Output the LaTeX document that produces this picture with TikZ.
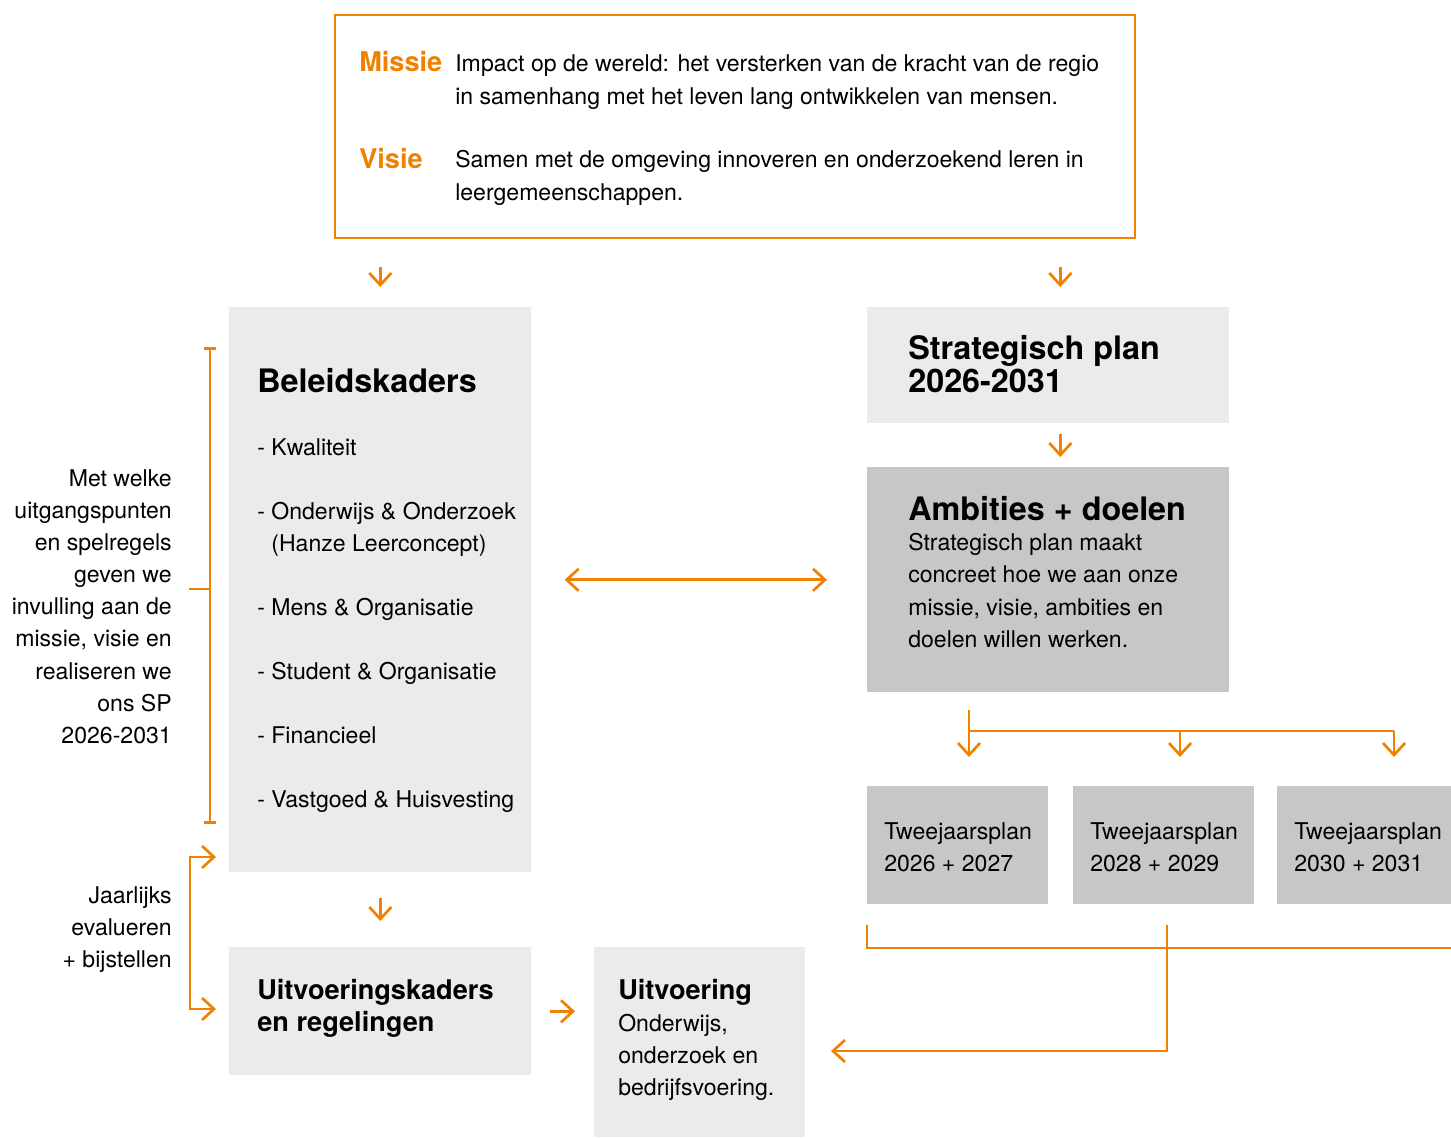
\documentclass[tikz,border=0pt]{standalone}
\usepackage{fontspec}
\setmainfont{TeX Gyre Heros}
\usetikzlibrary{positioning,arrows.meta}
\definecolor{hzorange}{HTML}{F08000}
\definecolor{hzlight}{HTML}{EBEBEB}
\definecolor{hzgrey}{HTML}{C6C7C6}

\begin{document}
\begin{tikzpicture}[
		x=0.025cm, y=-0.025cm,
		lightbox/.style = {fill=hzlight, inner sep=0, anchor=north west},
		greybox/.style = {fill=hzgrey, inner sep=0, anchor=north west},
		txt/.style = {inner sep=0, anchor=base west, align=left, font=\fontsize{16.4}{22.76}\selectfont},
		head/.style = {txt, font=\fontsize{23}{22.76}\selectfont\bfseries},
		subhead/.style = {txt, font=\fontsize{19.3}{22.76}\selectfont\bfseries},
		sidetxt/.style = {txt, anchor=base east, align=right},
		ln/.style = {draw=hzorange, line width=1.9pt},
		arr/.style = {ln, -{Straight Barb[length=3mm, width=5.5mm]}},
		dbl/.style = {ln, {Straight Barb[length=3mm, width=5.5mm]}-{Straight Barb[length=3mm, width=5.5mm]}}
	]
	\useasboundingbox (0,0) rectangle (1451,1137);

	\node[draw=hzorange, line width=1.6pt, inner sep=0, anchor=north west, minimum width=20cm, minimum height=5.575cm] (missie) at (334,14) {};
	\node[subhead, text=hzorange] (mlabel) at (359,71) {Missie};
	\node[txt] (mtext) at (455,104) {Impact op de wereld: het versterken van de kracht van de regio\\in samenhang met het leven lang ontwikkelen van mensen.};
	\node[subhead, text=hzorange] (vlabel) at (359,168) {Visie};
	\node[txt] (vtext) at (455,200) {Samen met de omgeving innoveren en onderzoekend leren in\\leergemeenschappen.};

	\node[lightbox, minimum width=7.55cm, minimum height=14.125cm] (beleid) at (229,307) {};
	\node[head] (bk) at (257,392) {Beleidskaders};
	\node[txt] (k1) at (257,455) {- Kwaliteit};
	\node[txt] (k2) at (257,551) {- Onderwijs \& Onderzoek\\\hphantom{- }(Hanze Leerconcept)};
	\node[txt] (k3) at (257,615) {- Mens \& Organisatie};
	\node[txt] (k4) at (257,679) {- Student \& Organisatie};
	\node[txt] (k5) at (257,743) {- Financieel};
	\node[txt] (k6) at (257,807) {- Vastgoed \& Huisvesting};

	\node[sidetxt] (uitleg) at (172,743) {Met welke\\uitgangspunten\\en spelregels\\geven we\\invulling aan de\\missie, visie en\\realiseren we\\ons SP\\2026-2031};

	\node[lightbox, minimum width=9.05cm, minimum height=2.9cm] (strat) at (867,307) {};
	\node[head] (sp) at (908,392) {Strategisch plan\\2026-2031};
	\node[greybox, minimum width=9.05cm, minimum height=5.625cm] (amb) at (867,467) {};
	\node[head] (ad) at (908,520) {Ambities + doelen};
	\node[txt] (adtext) at (908,647) {Strategisch plan maakt\\concreet hoe we aan onze\\missie, visie, ambities en\\doelen willen werken.};

	\node[greybox, minimum width=4.525cm, minimum height=2.95cm] (t1) at (867,786) {};
	\node[greybox, minimum width=4.525cm, minimum height=2.95cm] (t2) at (1073,786) {};
	\node[greybox, minimum width=4.35cm, minimum height=2.95cm] (t3) at (1277,786) {};
	\node[txt] (tp1) at (884,871) {Tweejaarsplan\\2026 + 2027};
	\node[txt] (tp2) at (1090,871) {Tweejaarsplan\\2028 + 2029};
	\node[txt] (tp3) at (1294,871) {Tweejaarsplan\\2030 + 2031};

	\node[lightbox, minimum width=7.55cm, minimum height=3.2cm] (uk) at (229,947) {};
	\node[subhead] (ukt) at (257,1031) {Uitvoeringskaders\\en regelingen};
	\node[lightbox, minimum width=5.275cm, minimum height=4.75cm] (uitv) at (594,947) {};
	\node[subhead] (ut) at (618,999) {Uitvoering};
	\node[txt] (utext) at (618,1095) {Onderwijs,\\onderzoek en\\bedrijfsvoering.};

	\node[sidetxt] (jaar) at (172,967) {Jaarlijks\\evalueren\\+ bijstellen};

	\draw[arr, shorten <=0.7cm, shorten >=0.5cm] (beleid.north |- missie.south) -- (beleid.north);
	\draw[arr, shorten <=0.7cm, shorten >=0.5cm] ([xshift=0.3cm]strat.north |- missie.south) -- ([xshift=0.3cm]strat.north);
	\draw[arr, shorten <=0.25cm, shorten >=0.25cm] ([xshift=0.3cm]strat.south) -- ([xshift=0.3cm]amb.north);
	\draw[dbl, shorten <=0.825cm, shorten >=1cm] (beleid.east |- amb.west) -- (amb.west);

	\coordinate (fa) at (969,710);
	\coordinate (fb) at (969,731);
	\coordinate (fm) at (1180,731);
	\coordinate (fc) at (1394,731);
	\draw[arr, shorten >=0.725cm] (fa) -- (fa |- t1.north);
	\draw[ln] (fb) -- (fc);
	\draw[arr, shorten >=0.725cm] (fm) -- (fm |- t2.north);
	\draw[arr, shorten >=0.725cm] (fc) -- (fc |- t3.north);

	\coordinate (b0) at (867,925);
	\coordinate (b1) at (1451,948);
	\coordinate (b2) at (1167,925);
	\coordinate (b3) at (831,1051);
	\draw[ln] (b0) |- (b1);
	\draw[arr] (b2) |- (b3);

	\coordinate (brt) at (210,347);
	\coordinate (brb) at (210,824);
	\coordinate (brm) at (210,589);
	\draw[ln, {Bar[width=3mm]}-{Bar[width=3mm]}] (brt) -- (brb);
	\draw[ln, shorten >=0.425cm] (brm) -- (brm -| uitleg.east);

	\coordinate (l1) at (190,857);
	\coordinate (l2) at (190,1009);
	\draw[dbl, shorten <=0.325cm, shorten >=0.325cm] (l1 -| beleid.west) -- (l1) -- (l2) -- (l2 -| uk.west);

	\draw[arr, shorten <=0.625cm, shorten >=0.65cm] (beleid.south) -- (uk.north);
	\draw[arr, shorten <=0.45cm, shorten >=0.475cm] (uk.east) -- (uk.east -| uitv.west);
\end{tikzpicture}
\end{document}
